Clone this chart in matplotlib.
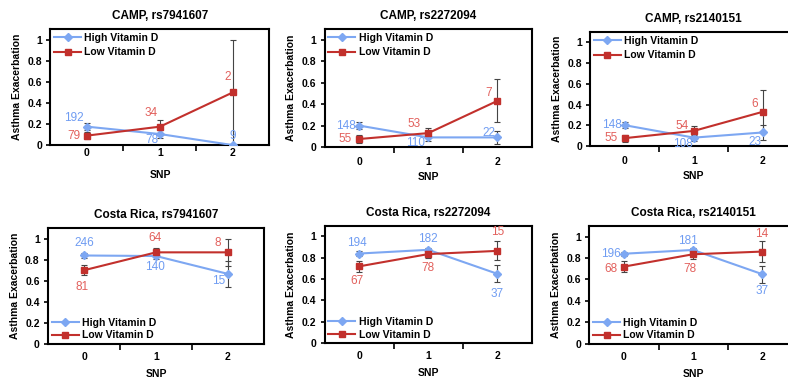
import matplotlib.pyplot as plt
import numpy as np

plt.rcParams['font.family'] = ['Liberation Sans', 'DejaVu Sans']
plt.rcParams['font.weight'] = 'bold'

# --- data ---
snp = [0, 1, 2]

titles = ["CAMP, rs7941607", "CAMP, rs2272094", "CAMP, rs2140151",
          "Costa Rica, rs7941607", "Costa Rica, rs2272094", "Costa Rica, rs2140151"]

high_mean = [[0.175, 0.105, 0.0], [0.20, 0.09, 0.09], [0.20, 0.08, 0.13],
             [0.84, 0.835, 0.665], [0.84, 0.875, 0.65], [0.84, 0.875, 0.65]]
high_err = [[0.03, 0.035, 0.0], [0.03, 0.03, 0.06], [0.03, 0.03, 0.07],
            [0.02, 0.03, 0.12], [0.02, 0.02, 0.08], [0.02, 0.02, 0.08]]
high_n = [[192, 78, 9], [148, 110, 22], [148, 108, 23],
          [246, 140, 15], [194, 182, 37], [196, 181, 37]]

low_mean = [[0.09, 0.175, 0.50], [0.075, 0.13, 0.43], [0.075, 0.145, 0.33],
            [0.70, 0.87, 0.87], [0.72, 0.835, 0.865], [0.72, 0.835, 0.86]]
low_err = [[0.03, 0.065, 0.50], [0.035, 0.045, 0.20], [0.035, 0.05, 0.21],
           [0.05, 0.04, 0.13], [0.05, 0.04, 0.09], [0.05, 0.04, 0.10]]
low_n = [[79, 34, 2], [55, 53, 7], [55, 54, 6],
         [81, 64, 8], [67, 78, 15], [68, 78, 14]]

# --- layout ---
# axes rectangles in figure fractions (left, bottom, width, height)
rects = [
    (0.064, 0.624, 0.278, 0.301),
    (0.412, 0.619, 0.263, 0.306),
    (0.749, 0.622, 0.263, 0.295),
    (0.061, 0.109, 0.274, 0.300),
    (0.412, 0.111, 0.263, 0.304),
    (0.748, 0.109, 0.263, 0.306),
]
xtick_pad = [2, 7, 7, 6, 6, 6]

# count label offsets in pixels (dx, dy; dy positive = down)
high_off = [[(-13, -9), (-8, 6), (0, -9)],
            [(-13, 0), (-13, 6), (-8, -4)],
            [(-13, 0), (-11, 6), (-8, 10)],
            [(0, -12), (-1, 11), (-9, 7)],
            [(-2, -11), (0, -11), (0, 20)],
            [(-13, 0), (-5, -9), (0, 17)]]
low_off = [[(-13, 0), (-9, -14), (-5, -15)],
           [(-14, 0), (-14, -9), (-9, -8)],
           [(-14, 0), (-12, -5), (-8, -8)],
           [(-2, 17), (-1, -14), (-10, -9)],
           [(-2, 15), (0, 14), (0, -19)],
           [(-13, 2), (-3, 15), (0, -18)]]

c_high = '#7da7f2'
c_low = '#c2302c'
c_high_txt = '#6f9cf2'
c_low_txt = '#e2605c'
c_err = '#444444'

fig = plt.figure(figsize=(7.88, 3.86), dpi=100)

for i in range(6):
    ax = fig.add_axes(rects[i])
    ax.errorbar(snp, high_mean[i], yerr=high_err[i], fmt='none', ecolor=c_err,
                elinewidth=0.8, capsize=2, capthick=0.8, zorder=2)
    ax.errorbar(snp, low_mean[i], yerr=low_err[i], fmt='none', ecolor=c_err,
                elinewidth=0.8, capsize=2, capthick=0.8, zorder=2)
    ax.plot(snp, high_mean[i], color=c_high, marker='D', markersize=4.5,
            lw=1.5, label='High Vitamin D', zorder=3)
    ax.plot(snp, low_mean[i], color=c_low, marker='s', markersize=5,
            lw=1.5, label='Low Vitamin D', zorder=4)
    for j in range(3):
        dx, dy = high_off[i][j]
        ax.annotate(str(high_n[i][j]), (snp[j], high_mean[i][j]),
                    xytext=(dx, -dy), textcoords='offset pixels',
                    ha='center', va='center', color=c_high_txt,
                    fontsize=8.5, fontweight='normal', annotation_clip=False)
        dx, dy = low_off[i][j]
        ax.annotate(str(low_n[i][j]), (snp[j], low_mean[i][j]),
                    xytext=(dx, -dy), textcoords='offset pixels',
                    ha='center', va='center', color=c_low_txt,
                    fontsize=8.5, fontweight='normal', annotation_clip=False)

    ax.set_xlim(-0.5, 2.5)
    ax.set_ylim(0, 1.1)
    ax.set_yticks([0, 0.2, 0.4, 0.6, 0.8, 1.0])
    ax.set_yticklabels(['0', '0.2', '0.4', '0.6', '0.8', '1'])
    ax.set_xticks(snp)
    ax.set_xticks([0.5, 1.5], minor=True)
    ax.tick_params(axis='x', which='major', length=0, pad=xtick_pad[i], labelsize=7.5)
    ax.tick_params(axis='x', which='minor', length=4, width=1.2, direction='out')
    ax.tick_params(axis='y', length=3, width=1.2, labelsize=7.5, pad=3)
    for sp in ax.spines.values():
        sp.set_linewidth(1.5)
    ax.set_title(titles[i], fontsize=8.5, fontweight='bold', pad=7)
    ax.set_xlabel('SNP', fontsize=7.5, fontweight='bold')
    h_px = rects[i][3] * 386
    ax.xaxis.set_label_coords(0.5, -25.0 / h_px)
    ax.set_ylabel('Asthma Exacerbation', fontsize=7.5, fontweight='bold', labelpad=4)
    loc = 'upper left' if i < 3 else 'lower left'
    ax.legend(loc=loc, frameon=False, fontsize=7.5, handlelength=2.6,
              borderaxespad=0.1, labelspacing=0.45 if i < 3 else 0.25,
              handletextpad=0.3, borderpad=0.25)

fig.savefig('out.png', dpi=100)
